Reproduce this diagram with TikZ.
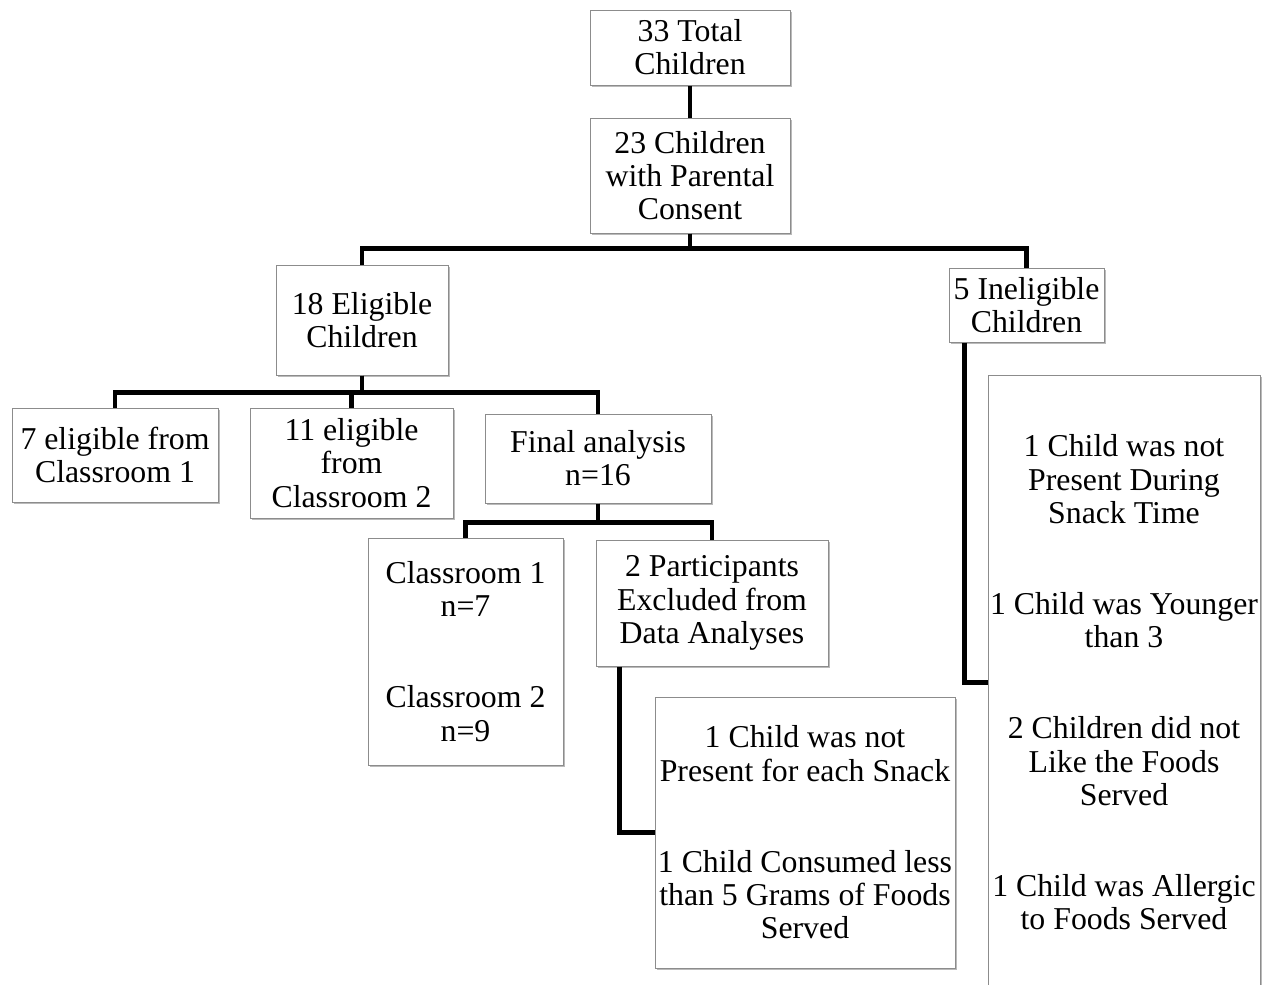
\documentclass[tikz,border=0pt]{standalone}
\usepackage{fontspec}
\setmainfont{Liberation Serif}
\usepackage{tikz}
\usetikzlibrary{shadows}
\usepackage{xcolor}
\tikzset{
    panel/.style={
        draw=black!45,
        line width=0.5pt,
        fill=white,
        inner sep=0.5pt,
        align=center,
        font=\fontsize{15.9pt}{16.6pt}\selectfont,
        drop shadow={shadow xshift=0.8pt,shadow yshift=-1.2pt,fill=black!60,opacity=0.45}
    },
    link/.style={
        line width=2.3pt,
        black
    }
}
\newcommand{\panel}[6] {
    \node[panel,minimum width={#4},minimum height={#5}] (#1) at ({#2}, {#3}) {#6};
}

\begin{document}
\begin{tikzpicture}[x=0.5pt,y=-0.5pt]
        \useasboundingbox (0,0) rectangle (1266,985);
        \clip (0,0) rectangle (1266,985);
        \panel{total}{690}{47.5}{100pt}{37.5pt}{33 Total\\Children}
        \panel{consent}{690}{175.5}{100pt}{57.5pt}{23 Children\\with Parental\\Consent}
        \panel{elig}{362}{320}{86pt}{55pt}{18 Eligible\\Children}
        \panel{inelig}{1026.5}{305}{77.5pt}{37pt}{5 Ineligible\\Children}
        \panel{roomA}{115}{455}{103pt}{47pt}{7 eligible from\\Classroom 1}
        \panel{roomB}{351.5}{463}{101.5pt}{55pt}{11 eligible\\from\\Classroom 2}
        \panel{final}{598}{458.5}{113pt}{44.5pt}{Final analysis\\n=16}
        \panel{rooms}{465.5}{651.5}{97.5pt}{113.5pt}{Classroom 1\\n=7\\[29pt]Classroom 2\\n=9}
        \panel{excl}{712}{603}{116pt}{63pt}{2 Participants\\Excluded from\\Data Analyses}
        \panel{exclwhy}{805}{832.5}{150pt}{135.5pt}{1 Child was not\\Present for each Snack\\[29pt]1 Child Consumed less\\than 5 Grams of Foods\\Served}
        \panel{ineligwhy}{1124}{682.5}{136pt}{307.5pt}{1 Child was not\\Present During\\Snack Time\\[29pt]1 Child was Younger\\than 3\\[29pt]2 Children did not\\Like the Foods\\Served\\[29pt]1 Child was Allergic\\to Foods Served}
        % connectors
        \draw[link] (total) -- (consent);
        \draw[link] (consent.south) -- ++(0,15) -| (elig.north);
        \draw[link] (consent.south) -- ++(0,15) -| (inelig.north);
        \draw[link] (elig.south) -- ++(0,17) -| (roomA.north);
        \draw[link] (elig.south) -- ++(0,17) -| (roomB.north);
        \draw[link] (elig.south) -- ++(0,17) -| (final.north);
        \draw[link] (final.south) -- ++(0,19) -| (rooms.north);
        \draw[link] (final.south) -- ++(0,19) -| (excl.north);
        \draw[link] ([xshift=12pt]excl.south west) |- (exclwhy.west);
        \draw[link] ([xshift=8pt]inelig.south west) |- (ineligwhy.west);
    \end{tikzpicture}
\end{document}
